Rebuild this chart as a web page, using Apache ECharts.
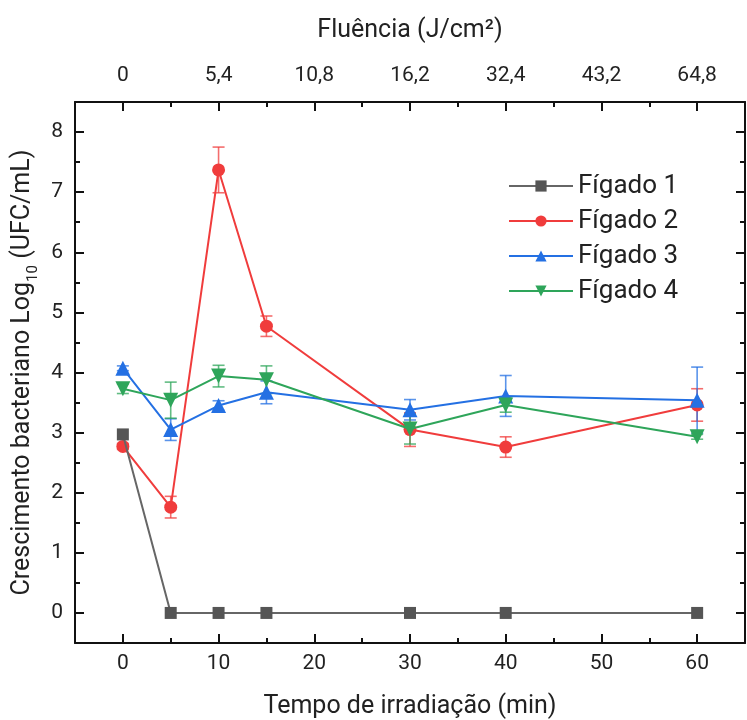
<!DOCTYPE html>
<html><head><meta charset="utf-8">
<script src="https://cdn.jsdelivr.net/npm/echarts@6/dist/echarts.min.js"></script>
<style>html,body{margin:0;padding:0;background:#fff}#c{width:747px;height:720px}</style>
</head><body><div id="c"></div>
<script>
const times = [0, 5, 10, 15, 30, 40, 60];
const figado1 = [2.97, 0, 0, 0, 0, 0, 0];
const figado1Err = [0, 0, 0, 0, 0, 0, 0];
const figado2 = [2.77, 1.76, 7.37, 4.77, 3.05, 2.76, 3.46];
const figado2Err = [0.05, 0.18, 0.38, 0.17, 0.28, 0.17, 0.27];
const figado3 = [4.07, 3.05, 3.45, 3.67, 3.38, 3.61, 3.54];
const figado3Err = [0.04, 0.18, 0.08, 0.19, 0.17, 0.34, 0.55];
const figado4 = [3.73, 3.54, 3.94, 3.88, 3.06, 3.46, 2.93];
const figado4Err = [0.08, 0.3, 0.18, 0.23, 0.25, 0.12, 0.04];
const seriesNames = ['Fígado 1', 'Fígado 2', 'Fígado 3', 'Fígado 4'];
const bottomTicks = [0, 10, 20, 30, 40, 50, 60];
const bottomMinor = [5, 15, 25, 35, 45, 55];
const topTickLabels = ['0', '5,4', '10,8', '16,2', '32,4', '43,2', '64,8'];
const yTicks = [0, 1, 2, 3, 4, 5, 6, 7, 8];
const yMinor = [0.5, 1.5, 2.5, 3.5, 4.5, 5.5, 6.5, 7.5];

const colors = ['#555555', '#f03c3c', '#2470e3', '#2ea55a'];
const FONT = 'Roboto';

const chart = echarts.init(document.getElementById('c'));

function xAxisDef(pos, major, showLine, labels) {
  return {
    type: 'value', position: pos, min: -5, max: 65,
    axisLine: {show: showLine, onZero: false, lineStyle: {color: '#111', width: 2}},
    axisTick: {show: true, inside: true, length: major ? 9 : 5, customValues: major ? bottomTicks : bottomMinor, lineStyle: {color: '#111', width: 2}},
    axisLabel: labels ? Object.assign({show: true, customValues: bottomTicks, color: '#222', fontFamily: FONT, fontSize: 21, margin: 10}, labels) : {show: false},
    splitLine: {show: false}
  };
}
function yAxisDef(pos, major, showLine, labels) {
  return {
    type: 'value', position: pos, min: -0.5, max: 8.5,
    axisLine: {show: showLine, onZero: false, lineStyle: {color: '#111', width: 2}},
    axisTick: {show: true, inside: true, length: major ? 9 : 5, customValues: major ? yTicks : yMinor, lineStyle: {color: '#111', width: 2}},
    axisLabel: labels ? Object.assign({show: true, customValues: yTicks, color: '#222', fontFamily: FONT, fontSize: 21, margin: 12}, labels) : {show: false},
    splitLine: {show: false}
  };
}

const xMain = xAxisDef('bottom', true, true, {});
xMain.name = 'Tempo de irradiação (min)';
xMain.nameLocation = 'middle';
xMain.nameGap = 51;
xMain.nameTextStyle = {fontFamily: FONT, fontSize: 25, color: '#222'};
const xTop = xAxisDef('top', true, true, {formatter: v => topTickLabels[bottomTicks.indexOf(v)], margin: 16});
xTop.name = 'Fluência (J/cm²)';
xTop.nameLocation = 'middle';
xTop.nameGap = 59;
xTop.nameTextStyle = {fontFamily: FONT, fontSize: 25, color: '#222'};

const yMain = yAxisDef('left', true, true, {});
yMain.name = '{a|Crescimento bacteriano Log}{s|10}{a| (UFC/mL)}';
yMain.nameLocation = 'middle';
yMain.nameGap = 27;
yMain.nameTextStyle = {fontFamily: FONT, fontSize: 25, color: '#222', rich: {
  a: {fontFamily: FONT, fontSize: 25, color: '#222', lineHeight: 30, verticalAlign: 'bottom'},
  s: {fontFamily: FONT, fontSize: 15, color: '#222', lineHeight: 30, verticalAlign: 'bottom', padding: [0, 0, -5, 0]}
}};

const mainData = [figado1, figado2, figado3, figado4];
const errData = [figado1Err, figado2Err, figado3Err, figado4Err];
const symbols = ['rect', 'circle', 'triangle', 'triangle'];
const symSizes = [12, 13, 15, 15];
const symRot = [0, 0, 0, 180];

const series = [];
mainData.forEach((vals, i) => {
  series.push({
    type: 'custom', name: seriesNames[i] + ' err', xAxisIndex: 0, yAxisIndex: 0, z: 2, silent: true,
    data: times.map((t, k) => [t, vals[k], errData[i][k]]),
    renderItem: function (params, api) {
      const x = api.value(0), y = api.value(1), e = api.value(2);
      if (!e) return null;
      const top = api.coord([x, y + e]);
      const bot = api.coord([x, y - e]);
      const hw = 6;
      const st = {stroke: colors[i], lineWidth: 1.6, opacity: 0.75};
      return {type: 'group', children: [
        {type: 'line', shape: {x1: top[0], y1: top[1], x2: bot[0], y2: bot[1]}, style: st},
        {type: 'line', shape: {x1: top[0] - hw, y1: top[1], x2: top[0] + hw, y2: top[1]}, style: st},
        {type: 'line', shape: {x1: bot[0] - hw, y1: bot[1], x2: bot[0] + hw, y2: bot[1]}, style: st}
      ]};
    }
  });
});
mainData.forEach((vals, i) => {
  series.push({
    type: 'line', name: seriesNames[i], xAxisIndex: 0, yAxisIndex: 0, z: 3 + (i === 0 ? 4 : i),
    data: times.map((t, k) => [t, vals[k]]),
    symbol: symbols[i], symbolSize: symSizes[i], symbolRotate: symRot[i], showSymbol: true,
    lineStyle: {color: i === 0 ? '#666' : colors[i], width: 2},
    itemStyle: {color: colors[i], opacity: 1},
    emphasis: {disabled: true},
    animation: false
  });
});

chart.setOption({
  animation: false,
  backgroundColor: '#fff',
  textStyle: {fontFamily: FONT},
  grid: {left: 75, right: 2, top: 102, bottom: 77, containLabel: false, outerBoundsMode: 'none'},
  legend: {
    data: seriesNames, left: 503, top: 168, orient: 'vertical',
    itemWidth: 64, itemHeight: 14, itemGap: 9,
    textStyle: {fontFamily: FONT, fontSize: 26, color: '#222', padding: [0, 0, 0, 0]},
    selectedMode: false
  },
  xAxis: [xMain, xAxisDef('bottom', false, false, null), xTop, xAxisDef('top', false, false, null)],
  yAxis: [yMain, yAxisDef('left', false, false, null), yAxisDef('right', true, true, null), yAxisDef('right', false, false, null)],
  series: series
});
</script>
</body></html>
